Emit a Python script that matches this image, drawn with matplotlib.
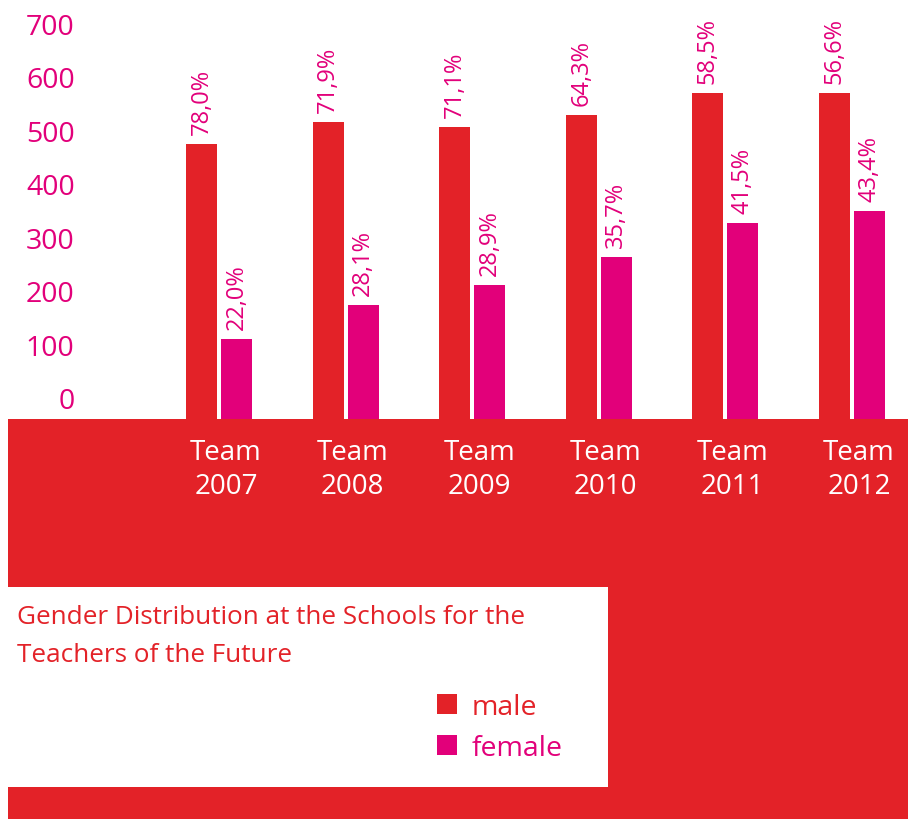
import numpy as np
import matplotlib
matplotlib.use("Agg")
import matplotlib.pyplot as plt
from matplotlib.patches import Rectangle
from matplotlib.transforms import ScaledTranslation

teams = ["Team\n2007", "Team\n2008", "Team\n2009", "Team\n2010", "Team\n2011", "Team\n2012"]
male = [513, 554, 545, 567, 609, 609]
female = [149, 213, 250, 302, 366, 388]
male_pct = ["78,0%", "71,9%", "71,1%", "64,3%", "58,5%", "56,6%"]
female_pct = ["22,0%", "28,1%", "28,9%", "35,7%", "41,5%", "43,4%"]
yticks = [0, 100, 200, 300, 400, 500, 600, 700]

RED = "#E32228"
MAGENTA = "#E2007A"
plt.rcParams["font.family"] = ["Open Sans", "DejaVu Sans"]

W, H = 908, 820
fig = plt.figure(figsize=(W / 100, H / 100), dpi=100)

def px(x0, y0, x1, y1):
    # pixel box (top-left origin) -> figure fraction rect
    return [x0 / W, 1 - y1 / H, (x1 - x0) / W, (y1 - y0) / H]

# red band and white caption box
fig.patches.append(Rectangle((8 / W, 0), 900 / W, 400 / H, transform=fig.transFigure,
                             facecolor=RED, edgecolor="none", zorder=0))
fig.patches.append(Rectangle((8 / W, 1 - 788 / H), 600 / W, 200 / H, transform=fig.transFigure,
                             facecolor="white", edgecolor="none", zorder=0))

ax = fig.add_axes(px(8, 45, 908, 420))
ax.set_zorder(2)
ax.patch.set_alpha(0)
scale = 126.6
ax.set_xlim((8 - 219) / scale, (908 - 219) / scale)
ax.set_ylim(0, 700)

x = np.arange(len(teams))
bw = 31 / scale
off = 17.5 / scale
bm = ax.bar(x - off, male, width=bw, color=RED, label="male")
bf = ax.bar(x + off, female, width=bw, color=MAGENTA, label="female")

for xi, v, t in zip(x - off, male, male_pct):
    ax.annotate(t, (xi, v), xytext=(0, 10), textcoords="offset pixels", rotation=90,
                ha="center", va="bottom", color=MAGENTA, fontsize=17, annotation_clip=False)
for xi, v, t in zip(x + off, female, female_pct):
    ax.annotate(t, (xi, v), xytext=(0, 10), textcoords="offset pixels", rotation=90,
                ha="center", va="bottom", color=MAGENTA, fontsize=17, annotation_clip=False)

for s in ax.spines.values():
    s.set_visible(False)

ax.set_yticks(yticks)
ax.set_yticklabels([str(v) for v in yticks])
ax.tick_params(axis="y", length=0, pad=-48, labelsize=20.5, labelcolor=MAGENTA)
for lab in ax.get_yticklabels():
    lab.set_horizontalalignment("right")
    lab.set_transform(lab.get_transform() + ScaledTranslation(0, 0.21, fig.dpi_scale_trans))

ax.set_xticks(x)
ax.set_xticklabels(teams, linespacing=1.28)
ax.tick_params(axis="x", length=0, pad=14, labelsize=20, labelcolor="white")
for lab in ax.get_xticklabels():
    lab.set_transform(lab.get_transform() + ScaledTranslation(0.07, 0, fig.dpi_scale_trans))

fig.text(17 / W, 1 - 618 / H, "Gender Distribution at the Schools for the",
         color=RED, fontsize=18.8, ha="left", va="center")
fig.text(17 / W, 1 - 656 / H, "Teachers of the Future",
         color=RED, fontsize=18.8, ha="left", va="center")

fig.legend(handles=[bm, bf], labels=["male", "female"], loc="upper left",
           bbox_to_anchor=(423 / W, 1 - 680 / H), frameon=False, fontsize=20.5,
           handlelength=0.7, handleheight=0.7, handletextpad=0.5,
           labelspacing=0.45, borderpad=0, labelcolor=[RED, MAGENTA])

fig.savefig("out.png", dpi=100, facecolor="white")
